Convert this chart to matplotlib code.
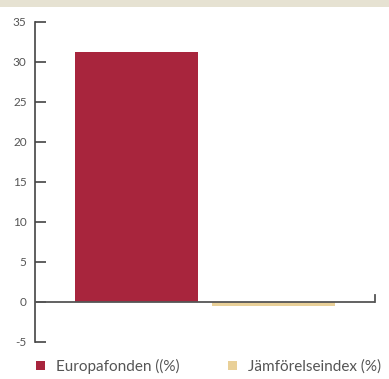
import matplotlib
matplotlib.use("Agg")
import matplotlib.pyplot as plt
from matplotlib.patches import Rectangle

plt.rcParams['font.family'] = ['Lato', 'DejaVu Sans']

# data
series = ["Europafonden ((%)", "Jämförelseindex (%)"]
values = [31.2, -0.45]
colors = ["#A8253D", "#E9D098"]
yticks = [-5, 0, 5, 10, 15, 20, 25, 30, 35]

W, H = 389, 379
fig = plt.figure(figsize=(W / 100, H / 100), dpi=100)

# top beige band
fig.patches.append(Rectangle((0, 372 / H), 1, 7 / H, transform=fig.transFigure,
                             facecolor="#E6E2D2", edgecolor="none", zorder=0))

ax = fig.add_axes([35 / W, (H - 342) / H, 340 / W, 320 / H])
ax.set_xlim(0, 340 / 123)
ax.set_ylim(-5, 35)

centers = [0.825, 1.939]
for c, v, col, lab in zip(centers, values, colors, series):
    ax.bar(c, v, width=1.0, color=col, label=lab, zorder=2)

# zero line with upright tick at the right end
ax.axhline(0, color="#555555", lw=1.3, zorder=3)
ax.plot([340 / 123, 340 / 123], [0, 0.85], color="#555555", lw=1.3,
        clip_on=False, zorder=3)

for s in ["top", "right", "bottom"]:
    ax.spines[s].set_visible(False)
ax.spines["left"].set_color("#444444")
ax.spines["left"].set_linewidth(1.2)
ax.set_xticks([])
ax.set_yticks(yticks)
ax.set_yticklabels([str(t) for t in yticks])
ax.tick_params(axis="y", direction="in", length=8, width=1.2, color="#444444",
               labelsize=8.5, labelcolor="#555555", pad=6)

leg = fig.legend(loc="center left", bbox_to_anchor=(30 / W, 13 / H), ncol=2,
                 frameon=False, fontsize=11, handlelength=0.55, handleheight=0.55,
                 handletextpad=0.75, columnspacing=3.2, borderaxespad=0.0)
for t in leg.get_texts():
    t.set_color("#555555")

fig.savefig("out.png", dpi=100, facecolor="white")
